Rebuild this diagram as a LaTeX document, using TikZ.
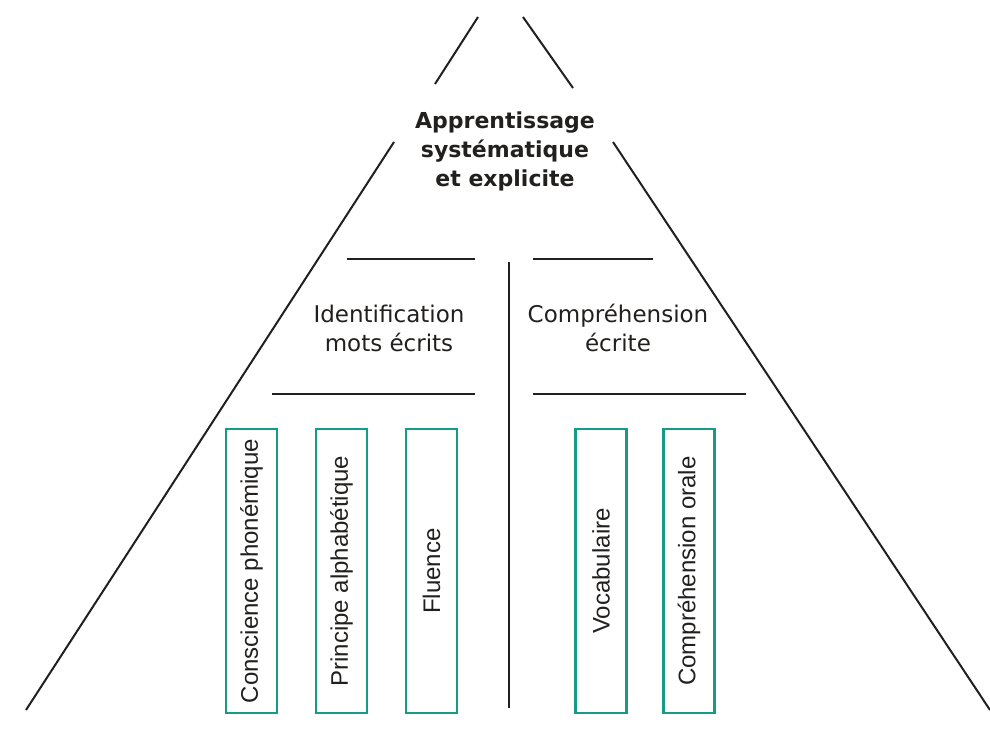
\documentclass[tikz,border=0pt]{standalone}
\usepackage{fontspec}
\setmainfont{DejaVu Sans}
\newfontfamily\labelfont{Liberation Sans}
\usepackage{tikz}
\usetikzlibrary{positioning}
\usepackage{xcolor}

\definecolor{inkdark}{RGB}{34,32,30}
\definecolor{tealbox}{RGB}{22,155,135}

\tikzset{
  pyrline/.style={inkdark, line width=2pt},
  titletext/.style={inkdark, align=center, font=\bfseries\fontsize{22}{29}\selectfont},
  branchtext/.style={inkdark, align=center, font=\fontsize{23}{29}\selectfont},
  skillbox/.style={draw=tealbox, line width=2.3pt, rotate=90, minimum width=284pt,
    minimum height=51pt, inner sep=0pt, text=inkdark, font=\labelfont\fontsize{24}{28}\selectfont}
}

\begin{document}
\begin{tikzpicture}[x=1pt, y=-1pt]
\useasboundingbox (0,0) rectangle (990,728);

%pyramid sides
{
\draw[pyrline] (435,84)--(478,17);
\draw[pyrline] (523,17)--(573,88);
\draw[pyrline] (394,142)--(26,710);
\draw[pyrline] (613,142)--(990,710);
}

\node[titletext] (apprentissage) at (505,151) {Apprentissage\\syst\'ematique\\ et explicite};

%two branches
\draw[pyrline] (509,262)--(509,708);

\draw[pyrline] (347,259)--(475,259);
\draw[pyrline] (533,259)--(653,259);
\draw[pyrline] (272,394)--(475,394);
\draw[pyrline] (533,394)--(746,394);

\node[branchtext] (identification) at (389,328) {Identification\\mots \'ecrits};
\node[branchtext] (comprehension) at (618,328) {Compr\'ehension\\\'ecrite};

%skills
\node[skillbox] (conscience) at (251.5,571) {Conscience phon\'emique};
\node[skillbox] (principe) at (341.5,571) {Principe alphab\'etique};
\node[skillbox] (fluence) at (431.5,571) {Fluence};
\node[skillbox] (vocabulaire) at (601,571) {Vocabulaire};
\node[skillbox] (orale) at (689,571) {Compr\'ehension orale};

\end{tikzpicture}
\end{document}
